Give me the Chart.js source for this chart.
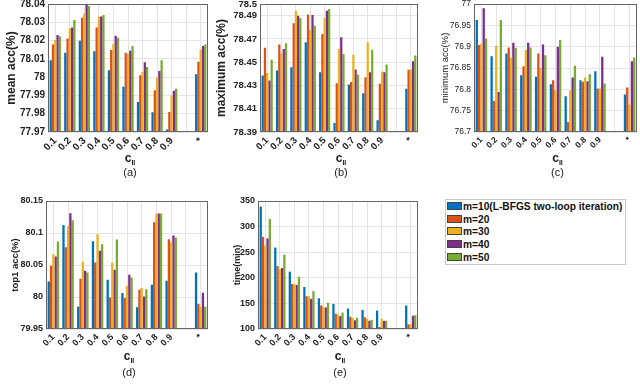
<!DOCTYPE html>
<html>
<head>
<meta charset="utf-8">
<script src="https://cdn.jsdelivr.net/npm/chart.js@4.4.1/dist/chart.umd.min.js"></script>
<style>
body { margin: 0; width: 640px; height: 392px; background: #fff; position: relative; overflow: hidden; font-family: "Liberation Sans", Arial, sans-serif; }
.panel { position: absolute; }
#legend { position: absolute; left: 445px; top: 199px; width: 181px; height: 66px; border: 1px solid #c8c8c8; box-sizing: border-box; padding-top: 1px; }
.row { height: 12.7px; line-height: 12.7px; font-weight: bold; font-size: 10.2px; color: #111; white-space: nowrap; }
.sw { display: inline-block; width: 13px; height: 6px; margin: 0 1px 0 1px; border: 0.5px solid #444; vertical-align: 0px; }
</style>
</head>
<body>
<div class="panel" style="left:0px;top:0px;width:212px;height:185px"><canvas id="chartA"></canvas></div>
<div class="panel" style="left:210px;top:0px;width:212px;height:185px"><canvas id="chartB"></canvas></div>
<div class="panel" style="left:436px;top:0px;width:204px;height:185px"><canvas id="chartC"></canvas></div>
<div class="panel" style="left:0px;top:196px;width:212px;height:190px"><canvas id="chartD"></canvas></div>
<div class="panel" style="left:224px;top:196px;width:198px;height:190px"><canvas id="chartE"></canvas></div>
<div id="legend"></div>

<script>
// categories (10th slot is the empty gap before '*')
var labels = ['0.1', '0.2', '0.3', '0.4', '0.5', '0.6', '0.7', '0.8', '0.9', '', '*'];
var seriesNames = ['m=10(L-BFGS two-loop iteration)', 'm=20', 'm=30', 'm=40', 'm=50'];
var colors = ['#0072BD', '#D95319', '#EDB120', '#7E2F8E', '#77AC30'];
var xTitleMain = 'c';
var xTitleSub = 'II';

// (a) mean acc
var meanM10 = [78.0093, 78.0133, 78.0199, 78.0142, 78.0038, 77.9947, 77.9864, 77.9808, 77.9713, null, 78.0016];
var meanM20 = [78.0178, 78.0212, 78.0325, 78.0272, 78.0148, 78.0133, 78.0011, 77.9928, 77.9810, null, 78.0084];
var meanM30 = [78.0203, 78.0267, 78.0349, 78.0331, 78.0181, 78.0126, 78.0029, 77.9998, 77.9900, null, 78.0151];
var meanM40 = [78.0230, 78.0272, 78.0398, 78.0331, 78.0226, 78.0144, 78.0082, 78.0034, 77.9925, null, 78.0170];
var meanM50 = [78.0224, 78.0312, 78.0389, 78.0340, 78.0215, 78.0170, 78.0056, 78.0093, 77.9936, null, 78.0178];
var meanTicks = [77.97, 77.98, 77.99, 78, 78.01, 78.02, 78.03, 78.04];

// (b) maximum acc
var maxM10 = [78.4386, 78.4429, 78.4457, 78.4671, 78.4414, 78.3977, 78.4309, 78.4234, 78.4000, null, 78.4271];
var maxM20 = [78.4623, 78.4651, 78.4834, 78.4909, 78.4743, 78.4320, 78.4329, 78.4371, 78.4314, null, 78.4434];
var maxM30 = [78.4406, 78.4577, 78.4943, 78.4777, 78.4880, 78.4614, 78.4563, 78.4671, 78.4420, null, 78.4440];
var maxM40 = [78.4343, 78.4614, 78.4900, 78.4906, 78.4943, 78.4714, 78.4437, 78.4414, 78.4414, null, 78.4509];
var maxM50 = [78.4520, 78.4663, 78.4880, 78.4814, 78.4957, 78.4571, 78.4394, 78.4606, 78.4480, null, 78.4557];
var maxTicks = [78.39, 78.41, 78.43, 78.45, 78.47, 78.49, 78.5];

// (c) minimum acc
var minM10 = [76.9624, 76.8778, 76.8840, 76.8332, 76.8292, 76.8120, 76.7838, 76.8214, 76.8426, null, 76.7877];
var minM20 = [76.9037, 76.7728, 76.8982, 76.8543, 76.8840, 76.8214, 76.7235, 76.8175, 76.8018, null, 76.8042];
var minM30 = [76.9076, 76.9021, 76.8747, 76.8919, 76.8504, 76.7979, 76.7979, 76.8277, 76.8018, null, 76.7642];
var minM40 = [76.9898, 76.7940, 76.9091, 76.9091, 76.9052, 76.8997, 76.8277, 76.8191, 76.8762, null, 76.8660];
var minM50 = [76.9193, 76.9624, 76.8974, 76.8982, 76.8801, 76.9154, 76.8551, 76.8355, 76.8136, null, 76.8747];
var minTicks = [76.7, 76.75, 76.8, 76.85, 76.9, 76.95, 77];

// (d) top1 acc
var top1M10 = [80.0243, 80.1126, 79.9848, 80.0871, 80.0269, 80.0061, 79.9838, 80.0191, 80.0253, null, 80.0383];
var top1M20 = [80.0487, 80.0778, 80.0284, 80.0539, 79.9994, 79.9983, 80.0113, 80.1168, 80.0903, null, 79.9895];
var top1M30 = [80.0669, 80.1105, 80.0549, 80.0980, 80.0534, 80.0175, 80.0139, 80.1303, 80.0856, null, 79.9853];
var top1M40 = [80.0632, 80.1308, 80.0409, 80.0721, 80.0425, 80.0347, 80.0009, 80.1303, 80.0960, null, 80.0066];
var top1M50 = [80.0866, 80.1199, 80.0383, 80.0825, 80.0897, 80.0305, 80.0123, 80.1303, 80.0929, null, 79.9848];
var top1Ticks = [79.95, 80, 80.05, 80.1, 80.15];

// (e) time (min)
var timeM10 = [339, 259, 212, 182, 160, 149, 140, 137, 136, null, 146];
var timeM20 = [280, 223, 188, 164, 146, 130, 124, 123, 104, null, 109];
var timeM30 = [263, 217, 188, 164, 143, 128, 122, 120, 120, null, 109];
var timeM40 = [277, 219, 186, 159, 142, 125, 117, 116, 116, null, 126];
var timeM50 = [315, 245, 202, 174, 151, 132, 122, 118, 116, null, 127];
var timeTicks = [100, 150, 200, 250, 300, 350];

Chart.defaults.font.family = '"Liberation Sans", Arial, sans-serif';
Chart.defaults.color = '#222';

// box around the axes, like matlab "box on"
var framePlugin = {
    id: 'frame',
    afterDatasetsDraw: function (chart) {
        var a = chart.chartArea;
        var ctx = chart.ctx;
        ctx.save();
        ctx.strokeStyle = '#666';
        ctx.lineWidth = 1;
        ctx.strokeRect(Math.round(a.left) + 0.5, Math.round(a.top) + 0.5,
            Math.round(a.right - a.left) - 1, Math.round(a.bottom - a.top) - 1);
        ctx.restore();
    }
};

// x title with subscript, and panel letter below
var xTitlePlugin = {
    id: 'xTitle',
    afterDraw: function (chart) {
        var o = chart.options.plugins.xTitle;
        var a = chart.chartArea;
        var ctx = chart.ctx;
        var cx = (a.left + a.right) / 2;
        var y = a.bottom + o.titleOffset;
        ctx.save();
        ctx.fillStyle = '#222';
        ctx.textBaseline = 'middle';
        ctx.font = 'bold 12px "Liberation Sans", Arial';
        var w1 = ctx.measureText(xTitleMain).width;
        ctx.font = 'bold 7px "Liberation Sans", Arial';
        var w2 = ctx.measureText(xTitleSub).width;
        var x0 = cx - (w1 + w2) / 2 + 2;
        ctx.textAlign = 'left';
        ctx.font = 'bold 12px "Liberation Sans", Arial';
        ctx.fillText(xTitleMain, x0, y);
        ctx.font = 'bold 7px "Liberation Sans", Arial';
        ctx.fillText(xTitleSub, x0 + w1, y + 4);
        ctx.font = '11px "Liberation Sans", Arial';
        ctx.textAlign = 'center';
        ctx.fillText(o.panel, cx + 2, a.bottom + o.panelOffset);
        ctx.restore();
    }
};

function makePanel(id, values, yTicks, p) {
    var ctx = document.getElementById(id).getContext('2d');
    var datasets = seriesNames.map(function (name, i) {
        return {
            label: name,
            data: values[i],
            backgroundColor: colors[i],
            borderWidth: 0,
            categoryPercentage: 0.78,
            barPercentage: 1.0
        };
    });
    return new Chart(ctx, {
        type: 'bar',
        data: { labels: labels, datasets: datasets },
        plugins: [framePlugin, xTitlePlugin],
        options: {
            responsive: true,
            maintainAspectRatio: false,
            animation: false,
            layout: { padding: { left: 0, right: p.padRight, top: p.padTop, bottom: 0 } },
            plugins: {
                legend: { display: false },
                tooltip: { enabled: false },
                xTitle: { panel: p.panel, titleOffset: p.titleOffset, panelOffset: p.panelOffset }
            },
            scales: {
                x: {
                    grid: { color: '#e4e4e4', offset: false, drawTicks: false },
                    border: { display: false },
                    ticks: {
                        autoSkip: false, minRotation: 45, maxRotation: 45, padding: 3,
                        font: { size: p.tickSize, weight: p.xWeight }, color: '#222'
                    },
                    afterFit: function (scale) {
                        scale.height = p.xHeight;
                        scale.paddingLeft = 0;
                        scale.paddingRight = 0;
                    }
                },
                y: {
                    min: yTicks[0],
                    max: yTicks[yTicks.length - 1],
                    grid: { color: '#e4e4e4', drawTicks: false },
                    border: { display: false },
                    ticks: {
                        padding: 3,
                        font: { size: p.tickSize, weight: p.weight }, color: '#222',
                        callback: function (v) { return String(parseFloat(Number(v).toFixed(3))); }
                    },
                    afterBuildTicks: function (scale) {
                        scale.ticks = yTicks.map(function (v) { return { value: v }; });
                    },
                    title: {
                        display: true, text: p.yTitle, color: '#222',
                        font: { size: p.titleSize, weight: p.weight },
                        padding: { top: p.titlePad, bottom: 0 }
                    },
                    afterFit: function (scale) {
                        scale.width = p.yWidth;
                        scale.paddingTop = 0;
                        scale.paddingBottom = 0;
                    }
                }
            }
        }
    });
}

makePanel('chartA', [meanM10, meanM20, meanM30, meanM40, meanM50], meanTicks, {
    yTitle: 'mean acc(%)', panel: '(a)', yWidth: 48, padRight: 4, padTop: 4, xHeight: 53,
    tickSize: 10, titleSize: 12, weight: 'bold', xWeight: 'bold', titlePad: 4, titleOffset: 27, panelOffset: 41
});
makePanel('chartB', [maxM10, maxM20, maxM30, maxM40, maxM50], maxTicks, {
    yTitle: 'maximum acc(%)', panel: '(b)', yWidth: 50, padRight: 4, padTop: 4, xHeight: 53,
    tickSize: 9.5, titleSize: 12, weight: 'bold', xWeight: 'bold', titlePad: 4, titleOffset: 27, panelOffset: 41
});
makePanel('chartC', [minM10, minM20, minM30, minM40, minM50], minTicks, {
    yTitle: 'minimum acc(%)', panel: '(c)', yWidth: 38, padRight: 3, padTop: 4, xHeight: 53,
    tickSize: 8.5, titleSize: 9.5, weight: 'normal', xWeight: 'bold', titlePad: 4, titleOffset: 27, panelOffset: 41
});
makePanel('chartD', [top1M10, top1M20, top1M30, top1M40, top1M50], top1Ticks, {
    yTitle: 'top1 acc(%)', panel: '(d)', yWidth: 46, padRight: 4, padTop: 5, xHeight: 57,
    tickSize: 9, titleSize: 9.5, weight: 'bold', xWeight: 'bold', titlePad: 10, titleOffset: 28, panelOffset: 44
});
makePanel('chartE', [timeM10, timeM20, timeM30, timeM40, timeM50], timeTicks, {
    yTitle: 'time(min)', panel: '(e)', yWidth: 34, padRight: 4, padTop: 5, xHeight: 57,
    tickSize: 9, titleSize: 9, weight: 'bold', xWeight: 'bold', titlePad: 8.5, titleOffset: 28, panelOffset: 44
});

// legend box
var legend = document.getElementById('legend');
seriesNames.forEach(function (name, i) {
    var row = document.createElement('div');
    row.className = 'row';
    row.innerHTML = '<span class="sw" style="background:' + colors[i] + '"></span>' + name;
    legend.appendChild(row);
});
</script>
</body>
</html>
